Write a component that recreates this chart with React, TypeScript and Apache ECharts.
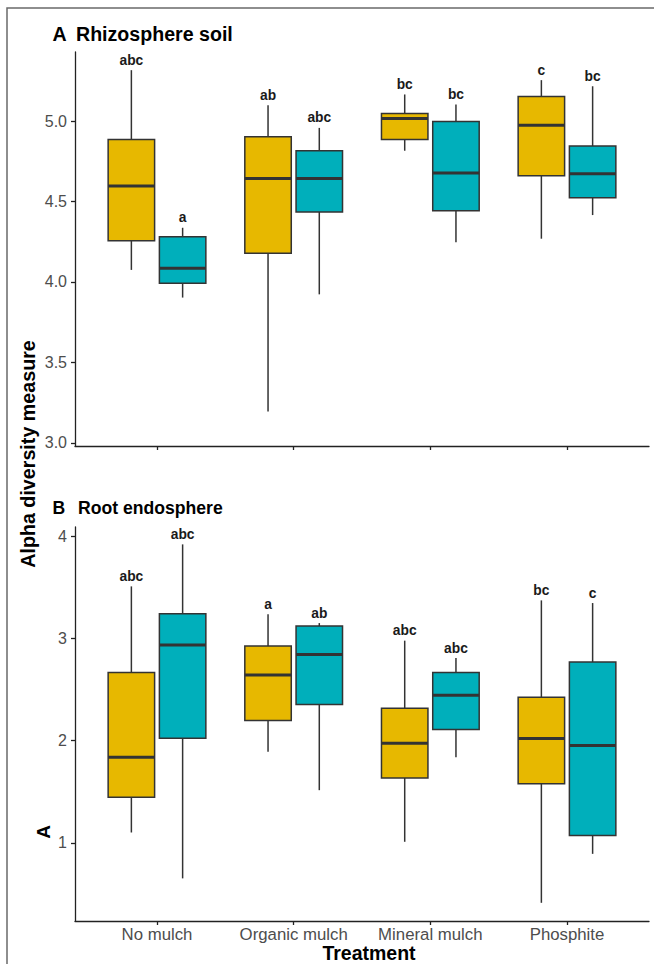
import React, { useEffect, useRef } from "react";
import * as echarts from "echarts";

const treatments = ["No mulch", "Organic mulch", "Mineral mulch", "Phosphite"];

// [min, q1, median, q3, max]
const rhizoYellow = [
  [4.075, 4.257, 4.596, 4.886, 5.317],
  [3.194, 4.178, 4.644, 4.903, 5.099],
  [4.816, 4.886, 5.017, 5.048, 5.166],
  [4.269, 4.66, 4.975, 5.153, 5.255],
];
const rhizoTeal = [
  [3.903, 3.992, 4.085, 4.281, 4.337],
  [3.923, 4.435, 4.644, 4.816, 4.958],
  [4.247, 4.443, 4.677, 4.998, 5.104],
  [4.416, 4.524, 4.673, 4.845, 5.217],
];
const rhizoLettersYellow = ["abc", "ab", "bc", "c"];
const rhizoLettersTeal = ["a", "abc", "bc", "bc"];

const endoYellow = [
  [1.101, 1.447, 1.838, 2.666, 3.509],
  [1.89, 2.196, 2.642, 2.926, 3.236],
  [1.01, 1.635, 1.975, 2.317, 2.978],
  [0.413, 1.577, 2.02, 2.424, 3.372],
];
const endoTeal = [
  [0.652, 2.023, 2.936, 3.242, 3.92],
  [1.515, 2.353, 2.842, 3.121, 3.15],
  [1.838, 2.108, 2.444, 2.666, 2.808],
  [0.892, 1.072, 1.952, 2.769, 3.346],
];
const endoLettersYellow = ["abc", "a", "abc", "bc"];
const endoLettersTeal = ["abc", "ab", "abc", "c"];

const rhizoTicks = [3.0, 3.5, 4.0, 4.5, 5.0];
const endoTicks = [1, 2, 3, 4];
const xTicks = [1, 2, 3, 4];

const YELLOW = "#E7B800";
const TEAL = "#00AFBB";
const EDGE = "#333333";
const FONT = '"Liberation Sans", Arial, sans-serif';
const BOX_W = 0.34;

function boxSeries(gridIdx: number, data: number[][], labels: string[], offset: number, color: string) {
  return {
    type: "custom",
    xAxisIndex: gridIdx,
    yAxisIndex: gridIdx,
    data: data.map((d, i) => [i + 1, ...d]),
    encode: { x: 0, y: [1, 2, 3, 4, 5] },
    renderItem: (params: any, api: any) => {
      const xv = api.value(0) + offset;
      const [mn, q1, md, q3, mx] = [1, 2, 3, 4, 5].map((k) => api.value(k));
      const half = api.size([BOX_W, 0])[0] / 2;
      const pMin = api.coord([xv, mn]);
      const pQ1 = api.coord([xv, q1]);
      const pMd = api.coord([xv, md]);
      const pQ3 = api.coord([xv, q3]);
      const pMx = api.coord([xv, mx]);
      const cx = pMd[0];
      const lineStyle = { stroke: EDGE, lineWidth: 1.5 };
      return {
        type: "group",
        children: [
          { type: "line", shape: { x1: cx, y1: pMx[1], x2: cx, y2: pQ3[1] }, style: lineStyle },
          { type: "line", shape: { x1: cx, y1: pQ1[1], x2: cx, y2: pMin[1] }, style: lineStyle },
          {
            type: "rect",
            shape: { x: cx - half, y: pQ3[1], width: half * 2, height: pQ1[1] - pQ3[1] },
            style: { fill: color, stroke: EDGE, lineWidth: 1.5 },
          },
          { type: "line", shape: { x1: cx - half, y1: pMd[1], x2: cx + half, y2: pMd[1] }, style: { stroke: EDGE, lineWidth: 3 } },
          {
            type: "text",
            style: {
              text: labels[params.dataIndex],
              x: cx,
              y: pMx[1] - 10,
              align: "center",
              verticalAlign: "middle",
              font: `bold 13.8px ${FONT}`,
              fill: "#1a1a1a",
            },
          },
        ],
      };
    },
  };
}

const axisLineStyle = { color: "#222222", width: 1.3 };

export default function App() {
  const ref = useRef<HTMLDivElement>(null);
  useEffect(() => {
    document.body.style.margin = "0";
    const chart = echarts.init(ref.current!, undefined, { renderer: "svg" });
    const xAxisBase = {
      type: "value",
      min: 0.4,
      max: 4.6,
      axisLine: { show: true, lineStyle: axisLineStyle },
      axisTick: { show: true, length: 4, customValues: xTicks, lineStyle: axisLineStyle },
      splitLine: { show: false },
    };
    const yLabel = { fontSize: 16, fontFamily: FONT, color: "#4d4d4d", margin: 8 };
    chart.setOption({
      animation: false,
      backgroundColor: "#ffffff",
      grid: [
        { left: 75, top: 52, right: 5, height: 394 },
        { left: 75, top: 527, right: 5, height: 394 },
      ],
      xAxis: [
        { ...xAxisBase, gridIndex: 0, axisLabel: { show: false } },
        {
          ...xAxisBase,
          gridIndex: 1,
          axisLabel: {
            show: true,
            customValues: xTicks,
            formatter: (v: number) => treatments[Math.round(v) - 1],
            fontSize: 16.8,
            fontFamily: FONT,
            color: "#4d4d4d",
            margin: 5,
          },
        },
      ],
      yAxis: [
        {
          type: "value",
          gridIndex: 0,
          min: 2.98,
          max: 5.43,
          axisLine: { show: true, lineStyle: axisLineStyle },
          axisTick: { show: true, length: 4, customValues: rhizoTicks, lineStyle: axisLineStyle },
          axisLabel: { ...yLabel, customValues: rhizoTicks, formatter: (v: number) => v.toFixed(1) },
          splitLine: { show: false },
        },
        {
          type: "value",
          gridIndex: 1,
          min: 0.235,
          max: 4.09,
          axisLine: { show: true, lineStyle: axisLineStyle },
          axisTick: { show: true, length: 4, customValues: endoTicks, lineStyle: axisLineStyle },
          axisLabel: { ...yLabel, customValues: endoTicks, formatter: (v: number) => String(v) },
          splitLine: { show: false },
        },
      ],
      series: [
        boxSeries(0, rhizoYellow, rhizoLettersYellow, -0.1875, YELLOW),
        boxSeries(0, rhizoTeal, rhizoLettersTeal, 0.1875, TEAL),
        boxSeries(1, endoYellow, endoLettersYellow, -0.1875, YELLOW),
        boxSeries(1, endoTeal, endoLettersTeal, 0.1875, TEAL),
      ],
      graphic: [
        {
          type: "rect",
          shape: { x: 7, y: 8, width: 700, height: 1000 },
          style: { fill: "none", stroke: "#6a6a6a", lineWidth: 1.5 },
          silent: true,
        },
        { type: "text", x: 52.5, y: 34, style: { text: "A", font: `bold 19.6px ${FONT}`, fill: "#000", verticalAlign: "middle" } },
        { type: "text", x: 76, y: 34, style: { text: "Rhizosphere soil", font: `bold 19.6px ${FONT}`, fill: "#000", verticalAlign: "middle" } },
        { type: "text", x: 52.5, y: 508, style: { text: "B", font: `bold 17.6px ${FONT}`, fill: "#000", verticalAlign: "middle" } },
        { type: "text", x: 78, y: 508, style: { text: "Root endosphere", font: `bold 17.6px ${FONT}`, fill: "#000", verticalAlign: "middle" } },
        {
          type: "text",
          x: 28,
          y: 454,
          rotation: Math.PI / 2,
          style: { text: "Alpha diversity measure", font: `bold 19.7px ${FONT}`, fill: "#000", align: "center", verticalAlign: "middle" },
        },
        {
          type: "text",
          x: 43,
          y: 832,
          rotation: Math.PI / 2,
          style: { text: "A", font: `bold 19px ${FONT}`, fill: "#000", align: "center", verticalAlign: "middle" },
        },
        { type: "text", x: 369, y: 952.5, style: { text: "Treatment", font: `bold 19.5px ${FONT}`, fill: "#000", align: "center", verticalAlign: "middle" } },
      ],
    });
    return () => chart.dispose();
  }, []);
  return <div ref={ref} style={{ width: 654, height: 964 }} />;
}
